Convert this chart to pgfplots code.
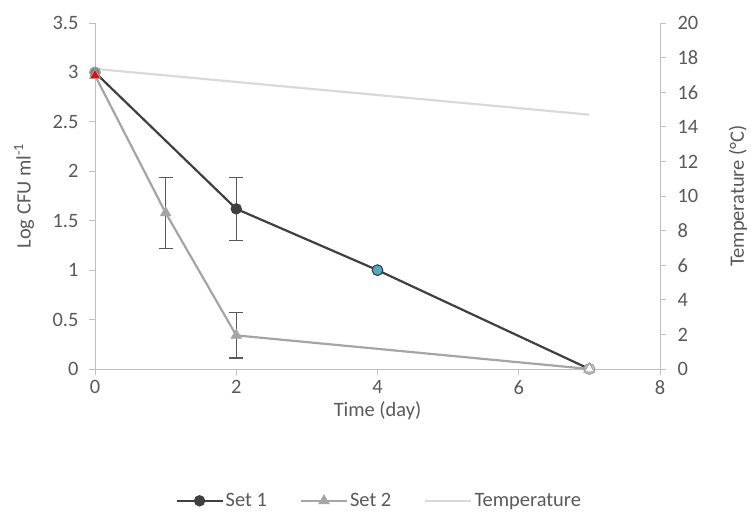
\documentclass[border=0pt]{standalone}
\usepackage{fontspec}
\setmainfont{Carlito}
\usepackage{pgfplots}
\pgfplotsset{compat=1.18}
\definecolor{txt}{HTML}{595959}
\definecolor{axl}{HTML}{BFBFBF}
\definecolor{s1}{HTML}{404040}
\definecolor{s2}{HTML}{A5A5A5}
\definecolor{tmp}{HTML}{D9D9D9}
\definecolor{teal1}{HTML}{4BACC6}
\pgfplotsset{
  base/.style={
    scale only axis, width=565bp, height=346bp,
    at={(95bp,146bp)}, anchor=south west,
    xmin=0, xmax=8,
    tick align=outside, major tick length=6bp,
    every tick/.style={axl, line width=0.9bp},
    axis line style={axl, line width=0.9bp},
    tick label style={txt, font=\fontsize{20.5}{24}\selectfont},
    label style={txt, font=\fontsize{20.5}{24}\selectfont},
    /pgf/number format/assume math mode=true,
    clip=false,
  }
}
\begin{document}
\begin{tikzpicture}
\useasboundingbox (0,0) rectangle (751bp,515bp);
\begin{axis}[base,
  axis x line=none, axis y line*=right,
  ymin=0, ymax=20, ytick distance=2,
  yticklabel style={xshift=8bp},
  ylabel={Temperature (°C)},
  ylabel style={at={(axis description cs:1,0.5)}, anchor=center, rotate=0, yshift=-78bp},
]
\addplot[tmp, line width=2.2bp, no marks] coordinates {(0,17.35) (7,14.7)};
\end{axis}
\begin{axis}[base,
  axis x line*=bottom, axis y line*=left,
  ymin=0, ymax=3.5, ytick distance=0.5, xtick distance=2,
  yticklabel style={xshift=-7bp},
  xticklabel style={yshift=-2bp},
  xlabel={Time (day)},
  xlabel style={at={(axis description cs:0.5,0)}, anchor=center, yshift=-42bp},
  ylabel={Log CFU ml\textsuperscript{-1}},
  ylabel style={at={(axis description cs:0,0.5)}, anchor=center, yshift=71bp},
  legend columns=3,
  legend style={at={(axis description cs:0.503,-0.381)}, anchor=center, draw=none, fill=none,
    font=\fontsize{20.5}{24}\selectfont, text=txt,
    /tikz/every even column/.append style={column sep=31bp}},
  legend image code/.code={\draw[mark repeat=2,mark phase=2,#1] plot coordinates {(0bp,0bp) (23bp,0bp) (46bp,0bp)};},
]
\addplot[s1, line width=2.2bp, mark=*, mark size=5.3bp, mark options={fill=s1, draw=s1, line width=0.8bp},
  error bars/.cd, y dir=both, y explicit,
  error bar style={txt, line width=1.4bp},
  error mark options={rotate=90, mark size=7bp, line width=1.4bp, txt}]
  coordinates {(0,3) (2,1.62) +- (0,0.32) (4,1) (7,0)};
\addlegendentry{Set 1}
\addplot[forget plot, only marks, mark=*, mark size=5.3bp, mark options={fill=teal1, draw=s1, line width=1bp}] coordinates {(4,1)};
\addplot[forget plot, only marks, mark=*, mark size=5.3bp, mark options={fill=white!93!black, draw=s2, line width=1.2bp}] coordinates {(7,0)};
\addplot[forget plot, only marks, mark=*, mark size=5.3bp, mark options={fill=gray, draw=s2, line width=1bp}] coordinates {(0,3)};
\addplot[s2, line width=2.2bp, mark=triangle*, mark size=6.2bp, mark options={fill=s2, draw=s2, line width=0.5bp},
  error bars/.cd, y dir=both, y explicit,
  error bar style={txt, line width=1.4bp},
  error mark options={rotate=90, mark size=7bp, line width=1.4bp, txt}]
  coordinates {(0,2.97) (1,1.58) +- (0,0.36) (2,0.34) +- (0,0.23) (7,0)};
\addlegendentry{Set 2}
\addplot[forget plot, only marks, mark=triangle*, mark size=6bp, mark options={fill=red, draw=s2, line width=0.6bp}] coordinates {(0,2.97)};
\addplot[forget plot, only marks, mark=triangle*, mark size=6bp, mark options={fill=white, draw=s2, line width=1.2bp}] coordinates {(7,0)};
\addlegendimage{tmp, line width=2.2bp, no marks}
\addlegendentry{Temperature}
\end{axis}
\end{tikzpicture}
\end{document}
